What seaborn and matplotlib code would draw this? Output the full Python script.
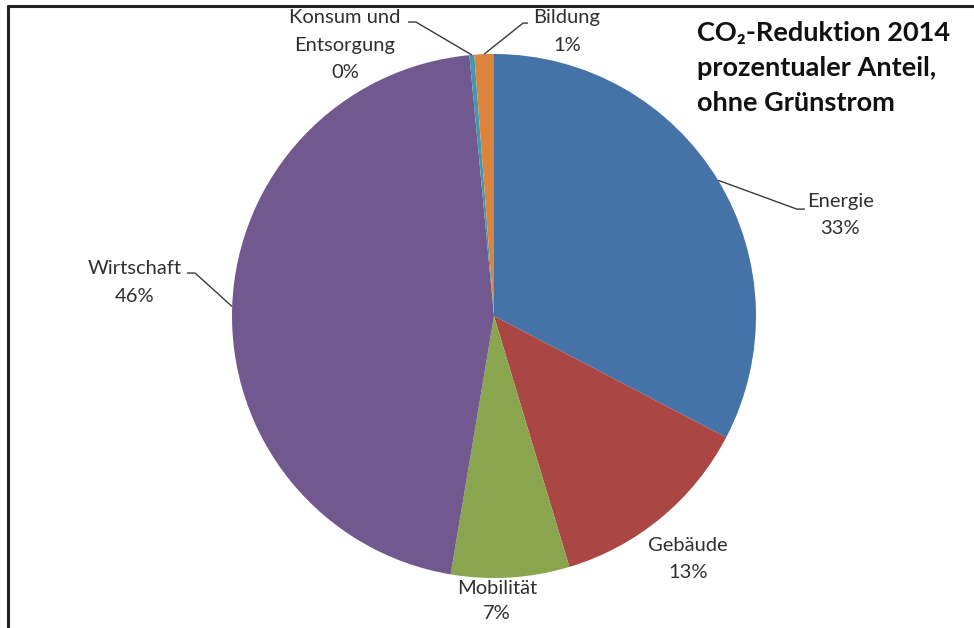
import matplotlib
matplotlib.use("Agg")
import matplotlib.pyplot as plt
import seaborn as sns
import numpy as np

# Data
categories = ["Energie", "Gebäude", "Mobilität", "Wirtschaft", "Konsum und\nEntsorgung", "Bildung"]
shares = [32.7, 12.7, 7.3, 45.9, 0.3, 1.2]
pct_labels = ["33%", "13%", "7%", "46%", "0%", "1%"]
colors = ["#4572A7", "#AA4643", "#89A54E", "#71588F", "#4198AF", "#DB843D"]
title_lines = ["CO₂-Reduktion 2014", "prozentualer Anteil,", "ohne Grünstrom"]

sns.set_theme(style="white")
plt.rcParams["font.family"] = ["Lato", "DejaVu Sans"]

W, H = 974, 628
fig = plt.figure(figsize=(W / 100, H / 100), dpi=100)
cx, cy, R = 494, 316, 262
ax = fig.add_axes([(cx - R) / W, (H - cy - R) / H, 2 * R / W, 2 * R / H])

wedges, _ = ax.pie(shares, colors=colors, startangle=90, counterclock=False,
                   radius=1, wedgeprops=dict(linewidth=0))
ax.set_xlim(-1, 1)
ax.set_ylim(-1, 1)
ax.set_aspect("auto")
ax.axis("off")
for w in wedges:
    w.set_clip_on(False)

# label layout (data coords, radius units): text center, optional leader elbow/end
layout = [
    dict(text=(1.321, 0.385), elbow=(1.156, 0.408), end=(1.187, 0.408)),
    dict(text=(0.740, -0.928)),
    dict(text=(0.011, -1.088), ls=1.6),
    dict(text=(-1.370, 0.128), elbow=(-1.141, 0.164), end=(-1.172, 0.164)),
    dict(text=(-0.569, 1.034), elbow=(-0.298, 1.122), end=(-0.328, 1.122)),
    dict(text=(0.279, 1.086), elbow=(0.111, 1.118), end=(0.130, 1.118)),
]

for w, cat, pct, lay in zip(wedges, categories, pct_labels, layout):
    mid = np.deg2rad((w.theta1 + w.theta2) / 2)
    if "elbow" in lay:
        p0 = (np.cos(mid), np.sin(mid))
        xs = [p0[0], lay["elbow"][0], lay["end"][0]]
        ys = [p0[1], lay["elbow"][1], lay["end"][1]]
        ax.plot(xs, ys, color="#3a3a3a", lw=1.0, clip_on=False, solid_capstyle="butt")
    ax.text(lay["text"][0], lay["text"][1], f"{cat}\n{pct}", ha="center", va="center",
            fontsize=14.5, color="#303030", linespacing=lay.get("ls", 1.75), clip_on=False)

# title
for i, line in enumerate(title_lines):
    fig.text(697 / W, 1 - (33 + i * 35) / H, line, ha="left", va="center",
             fontsize=19.5, fontweight="bold", color="#111111")

# frame (top and left)
fig.add_artist(plt.Line2D([8 / W, 1], [1 - 6 / H, 1 - 6 / H], transform=fig.transFigure,
                          color="#222222", lw=2.2))
fig.add_artist(plt.Line2D([8 / W, 8 / W], [1 - 6 / H, 0], transform=fig.transFigure,
                          color="#222222", lw=2.2))

fig.savefig("out.png", dpi=100)
